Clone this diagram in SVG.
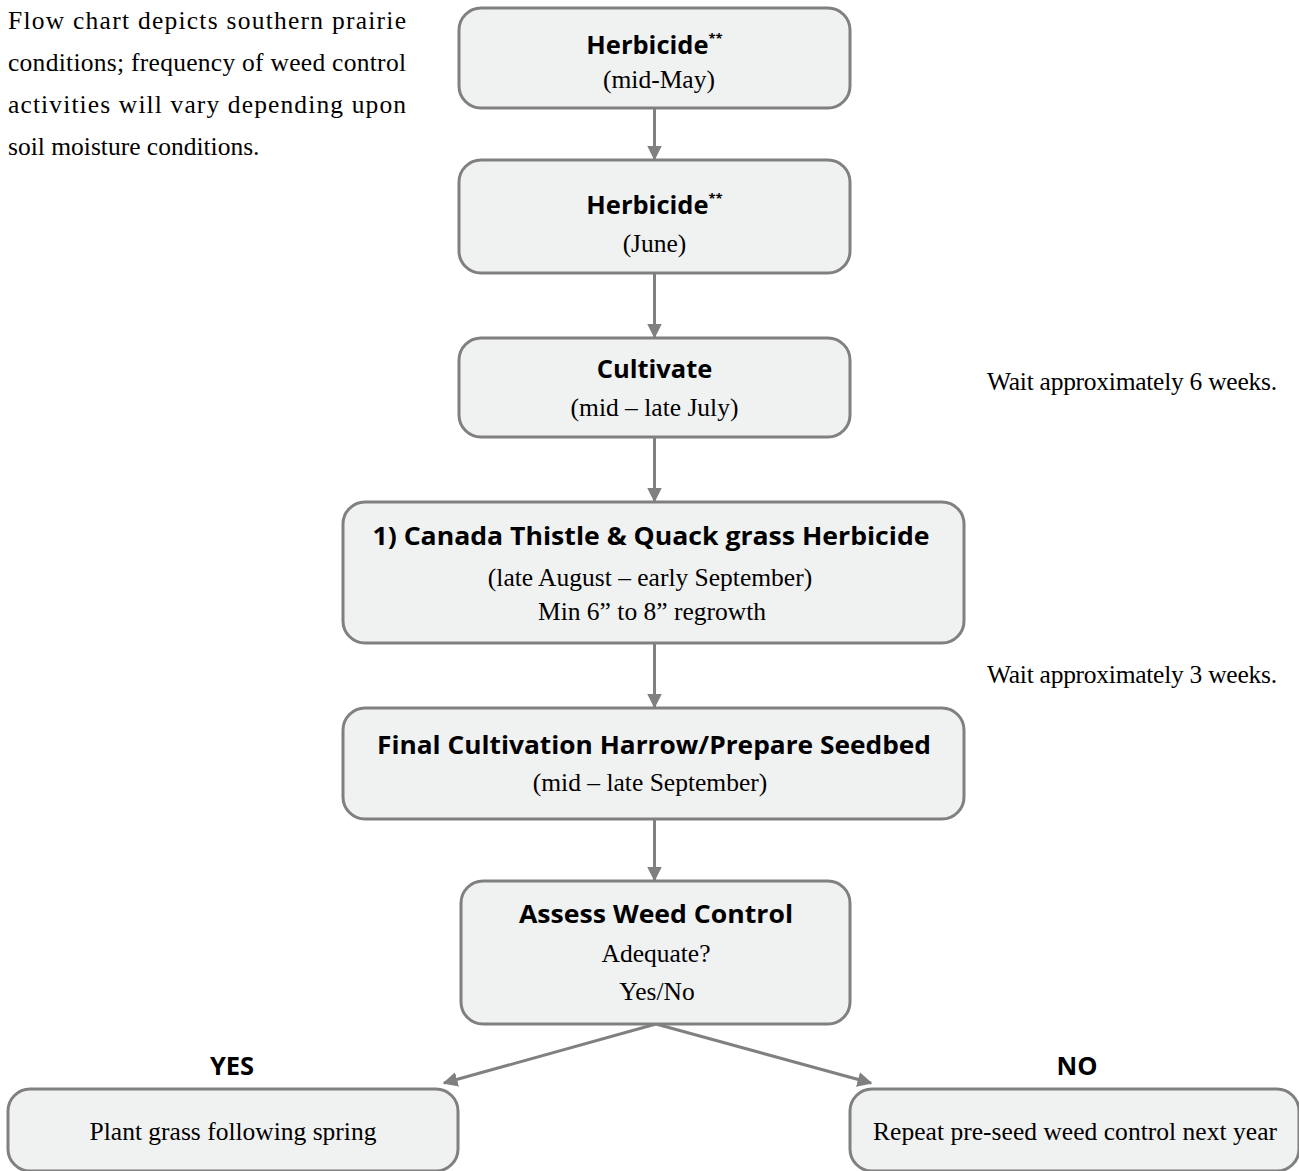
<svg xmlns="http://www.w3.org/2000/svg" width="1299" height="1171" viewBox="0 0 1299 1171">
<style>
.box{fill:#f0f1f1;stroke:#808080;stroke-width:3}
.t{font-family:"Open Sans","Liberation Sans",sans-serif;font-weight:bold;font-size:25.5px;fill:#000;text-anchor:middle}
.s{font-family:"Liberation Serif","Times New Roman",serif;font-size:25.5px;fill:#000;text-anchor:middle}
.n{font-family:"Liberation Serif","Times New Roman",serif;font-size:25.5px;fill:#000}
.sup{font-size:13px}
.c{stroke:#808080;stroke-width:3;fill:none}
</style>
<defs>
<marker id="ah" viewBox="0 0 10 10" refX="9" refY="5" markerWidth="5" markerHeight="5" orient="auto" markerUnits="strokeWidth">
<path d="M0,0 L10,5 L0,10 z" fill="#808080"/>
</marker>
</defs>
<rect width="1299" height="1171" fill="#fff"/>
<g id="note">
<text class="n" x="8" y="29" textLength="398" lengthAdjust="spacing">Flow chart depicts southern prairie</text>
<text class="n" x="8" y="71" textLength="398" lengthAdjust="spacing">conditions; frequency of weed control</text>
<text class="n" x="8" y="113" textLength="398" lengthAdjust="spacing">activities will  vary  depending upon</text>
<text class="n" x="8" y="155">soil moisture conditions.</text>
</g>
<g id="wait6"><text class="n" x="987" y="390" textLength="290" lengthAdjust="spacing">Wait approximately 6 weeks.</text></g>
<g id="wait3"><text class="n" x="987" y="683" textLength="290" lengthAdjust="spacing">Wait approximately 3 weeks.</text></g>
<g id="connectors">
<line class="c" x1="654.5" y1="108" x2="654.5" y2="159" marker-end="url(#ah)"/>
<line class="c" x1="654.5" y1="273" x2="654.5" y2="337" marker-end="url(#ah)"/>
<line class="c" x1="654.5" y1="437" x2="654.5" y2="501" marker-end="url(#ah)"/>
<line class="c" x1="654.5" y1="643" x2="654.5" y2="707" marker-end="url(#ah)"/>
<line class="c" x1="654.5" y1="819" x2="654.5" y2="880" marker-end="url(#ah)"/>
<line class="c" x1="656" y1="1024" x2="444" y2="1083" marker-end="url(#ah)"/>
<line class="c" x1="656" y1="1024" x2="871" y2="1083" marker-end="url(#ah)"/>
</g>
<g id="n1">
<rect class="box" x="459" y="8" width="391" height="100" rx="22"/>
<text class="t" x="654.5" y="54">Herbicide<tspan class="sup" dy="-11">**</tspan></text>
<text class="s" x="659" y="88">(mid-May)</text>
</g>
<g id="n2">
<rect class="box" x="459" y="160" width="391" height="113" rx="22"/>
<text class="t" x="654.5" y="214">Herbicide<tspan class="sup" dy="-11">**</tspan></text>
<text class="s" x="654.5" y="252">(June)</text>
</g>
<g id="n3">
<rect class="box" x="459" y="338" width="391" height="99" rx="22"/>
<text class="t" x="654.5" y="378">Cultivate</text>
<text class="s" x="654.5" y="416">(mid – late July)</text>
</g>
<g id="n4">
<rect class="box" x="343" y="502" width="621" height="141" rx="22"/>
<text class="t" x="651" y="545" textLength="557" lengthAdjust="spacingAndGlyphs">1) Canada Thistle &amp; Quack grass Herbicide</text>
<text class="s" x="650" y="586">(late August – early September)</text>
<text class="s" x="652" y="620">Min 6” to 8” regrowth</text>
</g>
<g id="n5">
<rect class="box" x="343" y="708" width="621" height="111" rx="22"/>
<text class="t" x="654" y="754" textLength="554" lengthAdjust="spacingAndGlyphs">Final Cultivation Harrow/Prepare Seedbed</text>
<text class="s" x="650" y="791">(mid – late September)</text>
</g>
<g id="n6">
<rect class="box" x="461" y="881" width="389" height="143" rx="22"/>
<text class="t" x="656" y="923" textLength="274" lengthAdjust="spacingAndGlyphs">Assess Weed Control</text>
<text class="s" x="656" y="962">Adequate?</text>
<text class="s" x="657" y="1000">Yes/No</text>
</g>
<g id="yes">
<text class="t" x="232" y="1075">YES</text>
<rect class="box" x="8" y="1089" width="450" height="82" rx="22"/>
<text class="s" x="233" y="1140">Plant grass following spring</text>
</g>
<g id="no">
<text class="t" x="1077" y="1075">NO</text>
<rect class="box" x="850" y="1089" width="449" height="82" rx="22"/>
<text class="s" x="1075" y="1140" textLength="404" lengthAdjust="spacing">Repeat pre-seed weed control next year</text>
</g>
</svg>
